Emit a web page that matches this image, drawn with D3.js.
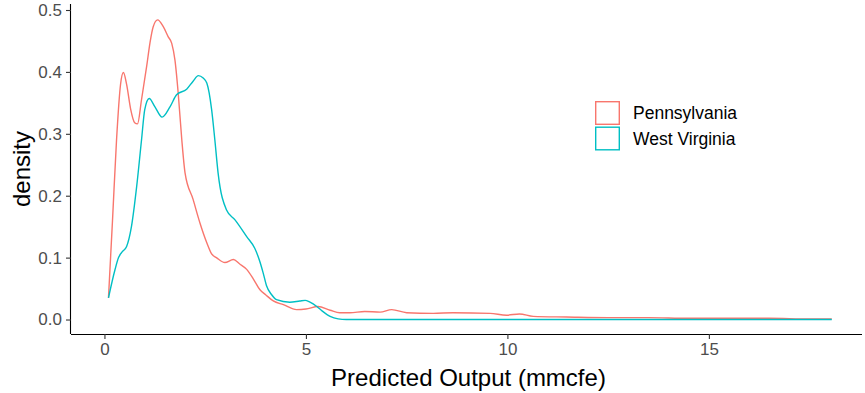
<!DOCTYPE html>
<html><head><meta charset="utf-8">
<script src="https://cdn.jsdelivr.net/npm/d3@7"></script>
<style>body{margin:0;background:#fff}svg{display:block}text{font-family:"Liberation Sans",Arial,sans-serif}</style>
</head><body>
<svg id="c" width="865" height="393"></svg>
<script>
const seriesNames = ["Pennsylvania", "West Virginia"];
const seriesColors = ["#F8766D", "#00BFC4"];
const paX = [0.1,0.2,0.3,0.4,0.47,0.55,0.65,0.75,0.82,0.92,1.05,1.13,1.21,1.32,1.46,1.58,1.67,1.75,1.83,1.92,2.0,2.2,2.37,2.54,2.66,2.78,2.99,3.2,3.35,3.53,3.7,3.86,4.0,4.19,4.44,4.77,5.0,5.3,5.6,5.84,6.09,6.46,6.84,7.13,7.5,8.16,8.65,9.57,9.98,10.3,10.64,11.47,12.5,13.5,14.5,15.5,16.5,17.5,18.05];
const paY = [0.035,0.16,0.29,0.38,0.399,0.38,0.34,0.318,0.316,0.355,0.41,0.447,0.473,0.484,0.473,0.457,0.446,0.419,0.366,0.29,0.237,0.194,0.156,0.124,0.106,0.1,0.092,0.097,0.09,0.081,0.065,0.048,0.04,0.03,0.024,0.016,0.017,0.021,0.015,0.011,0.011,0.013,0.012,0.016,0.011,0.01,0.011,0.01,0.007,0.009,0.005,0.004,0.003,0.003,0.002,0.002,0.002,0.001,0.001];
const wvX = [0.1,0.26,0.35,0.45,0.55,0.67,0.8,0.92,1.0,1.11,1.25,1.43,1.63,1.79,2.04,2.2,2.33,2.45,2.54,2.66,2.74,2.82,3.03,3.24,3.53,3.73,3.85,3.94,4.02,4.15,4.27,4.6,4.85,4.98,5.1,5.27,5.4,5.6,5.8,6.0,8,10,12,14,16,18.05];
const wvY = [0.035,0.08,0.1,0.11,0.118,0.15,0.215,0.29,0.339,0.357,0.344,0.327,0.344,0.363,0.372,0.385,0.394,0.39,0.382,0.339,0.29,0.237,0.177,0.161,0.134,0.115,0.095,0.075,0.055,0.04,0.032,0.028,0.03,0.031,0.028,0.021,0.014,0.005,0.001,0,0,0,0,0,0,0];
const xTicks = [0,5,10,15];
const yTicks = [0.0,0.1,0.2,0.3,0.4,0.5];

const svg = d3.select("#c");
const L=71,R=862,T=4,B=334;
const x = d3.scaleLinear().domain([-0.83,18.8]).range([L,R]);
const y = d3.scaleLinear().domain([-0.0234,0.5097]).range([B,T]);

const series = [
  {name:seriesNames[0], color:seriesColors[0], pts:d3.zip(paX,paY)},
  {name:seriesNames[1], color:seriesColors[1], pts:d3.zip(wvX,wvY)}
];
const line = d3.line().x(d=>x(d[0])).y(d=>y(d[1])).curve(d3.curveMonotoneX);
series.forEach(s=>{
  svg.append("path").attr("d",line(s.pts)).attr("fill","none")
    .attr("stroke",s.color).attr("stroke-width",1.4);
});

// axes
const gx = svg.append("g").attr("transform",`translate(0,${B})`)
  .call(d3.axisBottom(x).tickValues(xTicks).tickFormat(d3.format("d")).tickSize(5).tickPadding(4).tickSizeOuter(0));
const gy = svg.append("g").attr("transform",`translate(${L},0)`)
  .call(d3.axisLeft(y).tickValues(yTicks).tickFormat(d3.format(".1f")).tickSize(5).tickPadding(4).tickSizeOuter(0));
[gx,gy].forEach(g=>{
  g.select(".domain").attr("stroke","#000").attr("stroke-width",1.1);
  g.selectAll(".tick line").attr("stroke","#333").attr("stroke-width",1.1);
  g.selectAll(".tick text").attr("fill","#4D4D4D").style("font-size","17px");
});
gx.select(".domain").attr("d",`M${L},0.5H${R}`);
gy.select(".domain").attr("d",`M-0.5,${B}V${T}`);

svg.append("text").attr("x",(L+R)/2 + 2).attr("y",386).attr("text-anchor","middle")
  .style("font-size","24px").attr("fill","#000").text("Predicted Output (mmcfe)");
svg.append("text").attr("transform",`translate(30,${(T+B)/2}) rotate(-90)`).attr("text-anchor","middle")
  .style("font-size","24px").attr("fill","#000").text("density");

// legend
const lg = svg.append("g").attr("transform","translate(595,101)");
series.forEach((s,i)=>{
  const g = lg.append("g").attr("transform",`translate(0,${i*25.5})`);
  g.append("rect").attr("x",0.7).attr("y",0.7).attr("width",23.6).attr("height",22.6)
    .attr("fill","#fff").attr("stroke",s.color).attr("stroke-width",1.4);
  g.append("text").attr("x",38).attr("y",12).attr("dy","0.35em").style("font-size","17.5px")
    .attr("fill","#000").text(s.name);
});
</script>
</body></html>
